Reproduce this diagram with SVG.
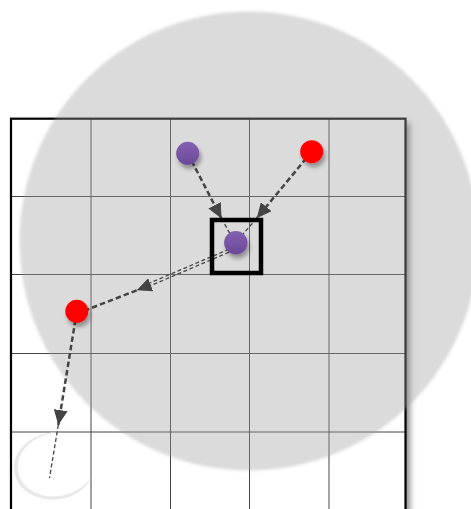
<svg xmlns="http://www.w3.org/2000/svg" width="471" height="509" viewBox="0 0 471 509">
  <defs>
    <filter id="rectShadow" x="-10%" y="-10%" width="130%" height="130%">
      <feDropShadow dx="4" dy="4" stdDeviation="3" flood-color="#000" flood-opacity="0.5"/>
    </filter>
    <filter id="soft" x="-5%" y="-5%" width="110%" height="110%">
      <feGaussianBlur stdDeviation="1.6"/>
    </filter>
    <filter id="nodeShadow" x="-60%" y="-60%" width="220%" height="220%">
      <feDropShadow dx="2" dy="4" stdDeviation="2.2" flood-color="#000" flood-opacity="0.35"/>
    </filter>
    <linearGradient id="purpleGrad" x1="0" y1="0" x2="0" y2="1">
      <stop offset="0" stop-color="#8360b2"/>
      <stop offset="1" stop-color="#6c4899"/>
    </linearGradient>
    <marker id="ah" markerUnits="userSpaceOnUse" markerWidth="15" markerHeight="14" refX="15" refY="7" orient="auto" viewBox="0 0 15 14">
      <path d="M0,0 L15,7 L0,14 z" fill="#444"/>
    </marker>
    <style>
      .grid { stroke: #444; stroke-width: 1; fill: none; }
      .thick { stroke: #444; stroke-width: 2.5; stroke-dasharray: 5.5 3; fill: none; }
      .thin { stroke: #444; stroke-width: 1.3; stroke-dasharray: 4 2.5; fill: none; }
      .purple { fill: url(#purpleGrad); filter: url(#nodeShadow); }
      .red { fill: #ff0000; filter: url(#nodeShadow); }
    </style>
  </defs>

  <rect width="471" height="509" fill="#ffffff"/>

  <g id="grid">
    <rect x="11" y="118.7" width="394.5" height="430" fill="#ffffff" filter="url(#rectShadow)"/>
    <line class="grid" x1="91" y1="118.7" x2="91" y2="509"/>
    <line class="grid" x1="170.5" y1="118.7" x2="170.5" y2="509"/>
    <line class="grid" x1="249.5" y1="118.7" x2="249.5" y2="509"/>
    <line class="grid" x1="329" y1="118.7" x2="329" y2="509"/>
    <line class="grid" x1="11" y1="196.5" x2="405.5" y2="196.5"/>
    <line class="grid" x1="11" y1="274.5" x2="405.5" y2="274.5"/>
    <line class="grid" x1="11" y1="353.5" x2="405.5" y2="353.5"/>
    <line class="grid" x1="11" y1="432" x2="405.5" y2="432"/>
    <rect x="11" y="118.7" width="394.5" height="430" fill="none" stroke="#000" stroke-width="2.2"/>
  </g>

  <g id="range">
    <circle cx="249" cy="241" r="229.5" fill="#a0a0a0" fill-opacity="0.376" filter="url(#soft)"/>
  </g>

  <g id="trace">
    <path d="M60,432 C31,432 13.5,450 14,468 C14.5,488 33,499.5 53,499.5 C71,499.5 85,491 91,477 C84,488 70,496.5 53,496.5 C36,496.5 18.5,486 18,468 C17.5,451 33,434 60,432 Z" fill="#e8e8e8"/>
  </g>

  <g id="connectors">
    <path class="thick" d="M187.7,153.3 L221.5,218.5" marker-end="url(#ah)"/>
    <path class="thin" d="M221.5,218.5 L234.5,242"/>
    <path class="thick" d="M311.7,151.7 L256.7,218.3" marker-end="url(#ah)"/>
    <path class="thin" d="M256.7,218.3 L240,237.5"/>
    <path class="thin" d="M229,249.2 L150,282.9"/>
    <path class="thin" d="M229,252.2 L150,285.9"/>
    <path class="thick" d="M136.7,290.3 L77,313.6" marker-start="url(#ah)"/>
    <path class="thick" d="M76.8,311.3 L58.3,425" marker-end="url(#ah)"/>
    <path class="thin" d="M58.3,425 L49.5,478"/>
  </g>

  <g id="selection">
    <rect x="212" y="220" width="49" height="53" fill="none" stroke="#000" stroke-width="4.5"/>
  </g>

  <g id="node-purple-1"><circle class="purple" cx="187.7" cy="153.3" r="11.5"/></g>
  <g id="node-red-1"><circle class="red" cx="311.7" cy="151.7" r="11.5"/></g>
  <g id="node-purple-2"><circle class="purple" cx="235.8" cy="242.8" r="11.7"/></g>
  <g id="node-red-2"><circle class="red" cx="76.8" cy="311.3" r="11.5"/></g>
</svg>
